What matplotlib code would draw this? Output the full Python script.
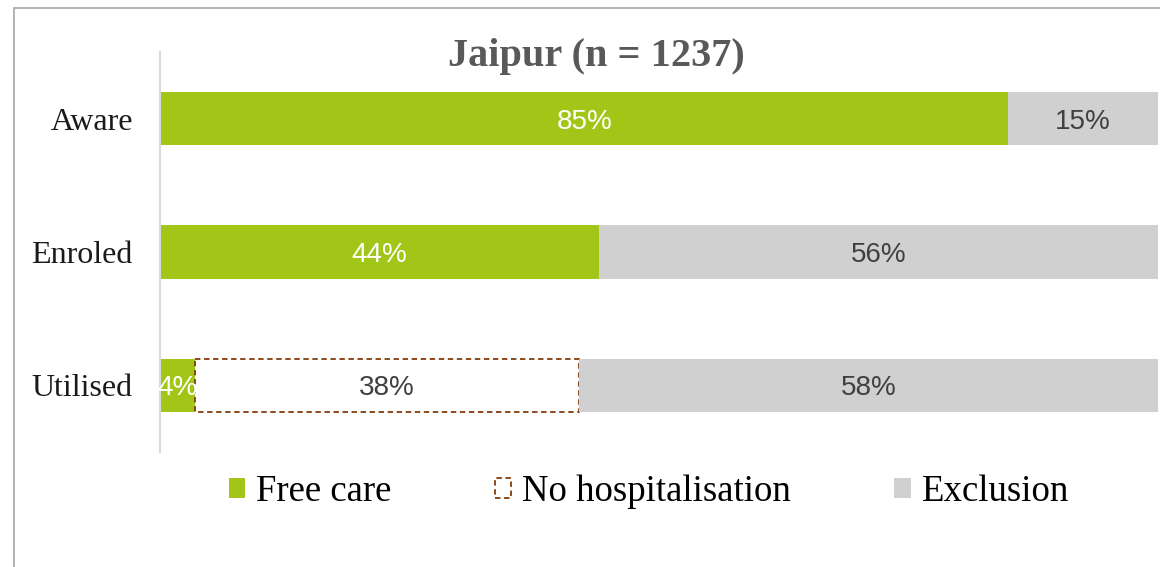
import matplotlib
matplotlib.use("Agg")
from matplotlib import pyplot as plt
from matplotlib.patches import Patch, Rectangle

categories = ["Aware", "Enroled", "Utilised"]
freeCare = [85, 44, 3.5]
noHosp = [0, 0, 38.5]
exclusion = [15, 56, 58]
seriesNames = ["Free care", "No hospitalisation", "Exclusion"]
title = "Jaipur (n = 1237)"

green = "#A2C617"
grey = "#D0D0D0"
brown = "#843C0C"
serif = ["Liberation Serif", "DejaVu Serif"]
sans = ["Liberation Sans", "DejaVu Sans"]

fig = plt.figure(figsize=(11.6, 5.67), dpi=100)
ax = fig.add_axes([160/1160, 1 - 452/567, 998/1160, 400/567])

ypos = list(range(len(categories)))
barH = 0.4
ax.barh(ypos, freeCare, height=barH, color=green, linewidth=0)
left2 = [f for f in freeCare]
ax.barh(ypos, noHosp, left=left2, height=barH, color="white", edgecolor=[brown if n > 0 else "none" for n in noHosp],
        linestyle=(0, (3, 2)), linewidth=1.3)
left3 = [f + n for f, n in zip(freeCare, noHosp)]
ax.barh(ypos, exclusion, left=left3, height=barH, color=grey, linewidth=0)

for i in ypos:
    ax.text(freeCare[i] / 2, i, "{:.0f}%".format(freeCare[i]), ha="center", va="center_baseline", color="white", fontsize=20, family=sans)
    if noHosp[i] > 0:
        ax.text(left2[i] + noHosp[i] / 2, i, "{:.0f}%".format(noHosp[i]), ha="center", va="center_baseline", color="#404040", fontsize=20, family=sans)
    ax.text(left3[i] + exclusion[i] / 2, i, "{:.0f}%".format(exclusion[i]), ha="center", va="center_baseline", color="#404040", fontsize=20, family=sans)

ax.set_xlim(0, 100)
ax.set_ylim(2.5, -0.5)
ax.set_yticks(ypos)
ax.set_yticklabels(categories, fontsize=23, family=serif, color="#1a1a1a")
ax.tick_params(left=False, bottom=False, labelbottom=False, pad=16)
for s in ["top", "right", "bottom"]:
    ax.spines[s].set_visible(False)
ax.spines["left"].set_color("#D9D9D9")
ax.spines["left"].set_linewidth(1.5)

fig.text(596/1160, 1 - 57/567, title, ha="center", va="center", fontsize=29, fontweight="bold", family=serif, color="#595959")

handles = [Patch(facecolor=green, edgecolor="none"),
           Patch(facecolor="white", edgecolor=brown, linestyle=(0, (3, 2)), linewidth=1.3),
           Patch(facecolor=grey, edgecolor="none")]
fig.legend(handles, seriesNames, loc="center", bbox_to_anchor=(649/1160, 1 - 492/567), ncol=3, frameon=False,
           prop={"family": serif, "size": 26.5}, handlelength=0.45, handleheight=0.45, handletextpad=0.3, columnspacing=2.8)

# outer frame (left and top edges visible)
fig.add_artist(Rectangle((14/1160, -0.01), 1.1, 1 - 8/567 + 0.01, transform=fig.transFigure, fill=False,
                         edgecolor="#A6A6A6", linewidth=1.2))

fig.savefig("out.png", dpi=100)
